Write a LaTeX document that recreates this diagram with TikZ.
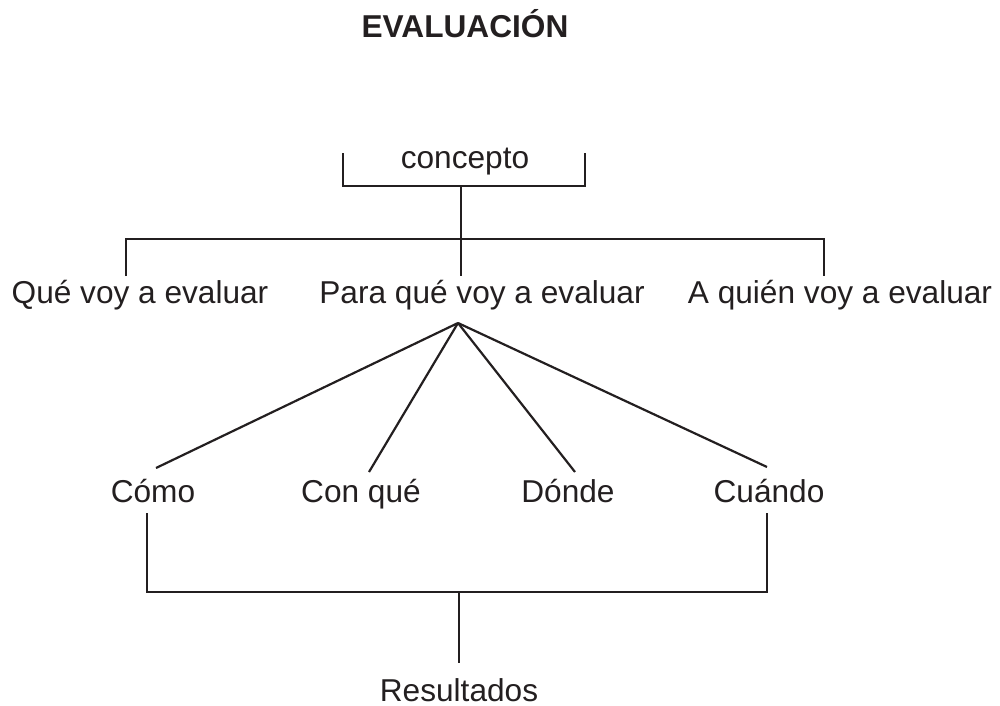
\documentclass[tikz,border=0pt]{standalone}
\usepackage{fontspec}
\setmainfont{Liberation Sans}
\definecolor{ink}{RGB}{35,31,32}
\begin{document}
\begin{tikzpicture}[x=0.02cm,y=-0.02cm,line width=1.25pt,color=ink,lbl/.style={anchor=base,inner sep=0pt,font=\fontsize{18}{21}\selectfont},ttl/.style={lbl,font=\fontsize{18}{21}\selectfont\bfseries}]
\useasboundingbox (0,0) rectangle (1000,706);
\def\yb{276};

\node[ttl] (eval) at (465,38) {EVALUACIÓN};

% concepto
\node[lbl] (conc) at (465,168) {concepto};
\coordinate (cL) at (343,153);
\coordinate (cR) at (585,153);
\coordinate (cB) at (461,186);
\draw (cL) |- (cB) -| (cR);

\coordinate (hub) at (461,239);
\draw (cB) -- (hub);
\coordinate (qT) at (126,\yb);
\coordinate (pT) at (461,\yb);
\coordinate (aT) at (824,\yb);
\draw (qT) |- (hub) -| (aT);
\draw (hub) -- (pT);

\node[lbl] (que) at (140,303) {Qué voy a evaluar};
\node[lbl] (para) at (482,303) {Para qué voy a evaluar};
\node[lbl] (quien) at (840,303) {A quién voy a evaluar};

% abanico
\coordinate (apex) at (458,323);
\coordinate (comoT) at (156,468);
\coordinate (conT) at (369,472);
\coordinate (dondeT) at (575,472);
\coordinate (cuandoT) at (767,467);
\draw (apex) -- (comoT);
\draw (apex) -- (conT);
\draw (apex) -- (dondeT);
\draw (apex) -- (cuandoT);

\node[lbl] (como) at (153,502) {Cómo};
\node[lbl] (con) at (361,502) {Con qué};
\node[lbl] (donde) at (568,502) {Dónde};
\node[lbl] (cuando) at (769,502) {Cuándo};

\coordinate (comoB) at (147,513);
\coordinate (cuandoB) at (767,513);
\coordinate (join) at (459,592);
\coordinate (resT) at (459,663);
\draw (comoB) |- (join) -| (cuandoB);
\draw (join) -- (resT);

\node[lbl] (res) at (459,701) {Resultados};
\end{tikzpicture}
\end{document}
